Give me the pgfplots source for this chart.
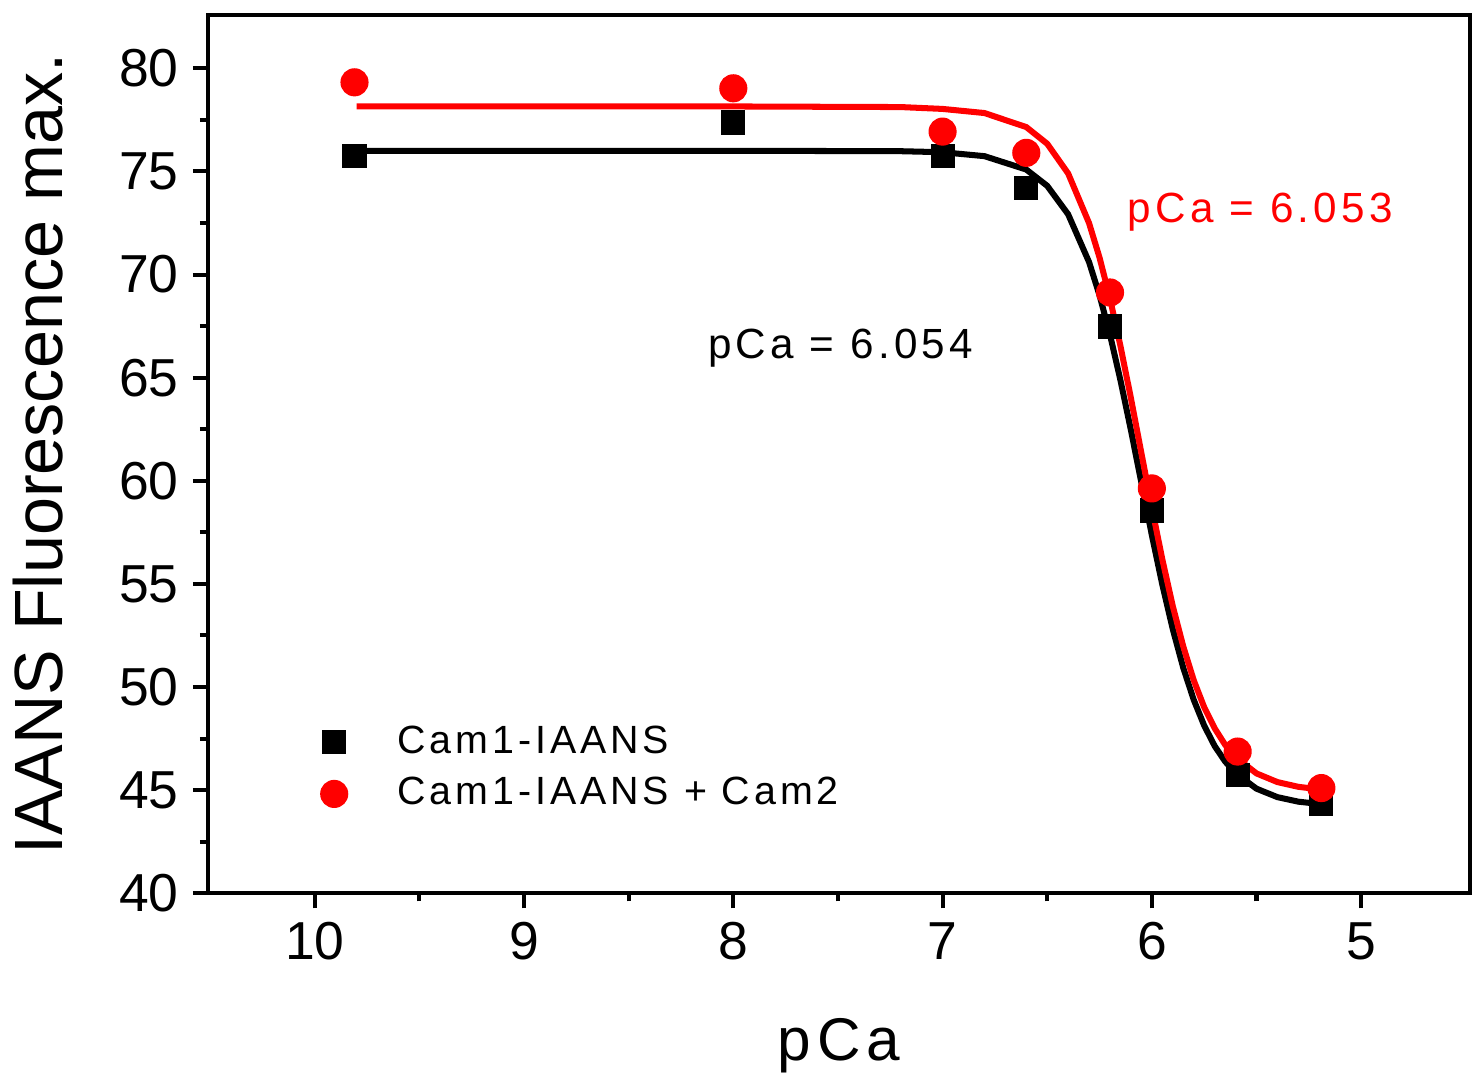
\documentclass[border=0pt]{standalone}
\usepackage{fontspec}
\setmainfont{Liberation Sans}
\newfontfamily\spaced[LetterSpace=10]{Liberation Sans}
\usepackage{pgfplots}
\pgfplotsset{compat=1.18}
\definecolor{myred}{RGB}{255,0,0}
\begin{document}
\begin{tikzpicture}
\begin{axis}[
  scale only axis, width=314pt, height=218.5pt,
  x dir=reverse, xmin=4.48, xmax=10.51, ymin=40, ymax=82.58,
  xtick={5,6,7,8,9,10}, minor x tick num=1,
  ytick={40,45,...,80}, minor y tick num=1,
  tick align=outside, xtick pos=bottom, ytick pos=left,
  major tick length=3.75pt, minor tick length=2pt,
  every tick/.style={black, line width=1pt},
  axis line style={line width=1pt},
  tick label style={font=\fontsize{13.3}{14}\selectfont},
  /pgf/number format/assume math mode=true,
  xlabel={pCa}, ylabel={IAANS Fluorescence max.},
  xlabel style={font=\spaced\fontsize{15}{17}\selectfont, yshift=-7.5pt},
  ylabel style={font=\fontsize{17}{19}\selectfont, yshift=7pt},
  legend style={at={(axis description cs:0.062,0.1425)}, anchor=west, draw=none, fill=none,
    font=\spaced\fontsize{9.8}{12}\selectfont, row sep=0.5pt},
  legend cell align=left,
]
\addplot[black, line width=1.5pt, forget plot] coordinates {
(9.8,76.0)(8.0,76.0)(7.2,75.98)(7.0,75.93)(6.8,75.74)(6.6,75.09)(6.5,74.30)(6.4,72.92)(6.3,70.60)
(6.25,68.99)(6.2,67.08)(6.15,64.87)(6.1,62.45)(6.05,59.90)(6.0,57.36)(5.95,54.96)(5.9,52.80)
(5.85,50.93)(5.8,49.38)(5.75,48.13)(5.7,47.14)(5.65,46.39)(5.6,45.82)(5.5,45.07)(5.4,44.66)
(5.3,44.44)(5.2,44.33)};
\addplot[myred, line width=1.5pt, forget plot] coordinates {
(9.8,78.15)(8.0,78.15)(7.2,78.12)(7.0,78.03)(6.8,77.83)(6.6,77.15)(6.5,76.34)(6.4,74.90)(6.3,72.49)
(6.25,70.82)(6.2,68.83)(6.15,66.53)(6.1,64.00)(6.05,61.34)(6.0,58.70)(5.95,56.19)(5.9,53.92)
(5.85,51.97)(5.8,50.33)(5.75,49.02)(5.7,48.00)(5.65,47.20)(5.6,46.60)(5.5,45.81)(5.4,45.39)
(5.3,45.16)(5.2,45.04)};
\addplot[only marks, mark=square*, mark size=2.8pt, black,
  legend image code/.code={\draw[mark repeat=2,mark phase=2] plot coordinates {(0cm,0cm)(0.3cm,0cm)(0.6cm,0cm)}; \path (0cm,0cm) (0.775cm,0cm);}] coordinates {
(9.81,75.76)(8.0,77.37)(7.0,75.76)(6.6,74.2)(6.2,67.48)(6.0,58.56)(5.59,45.75)(5.19,44.34)};
\addlegendentry{Cam1-IAANS}
\addplot[only marks, mark=*, mark size=3.3pt, myred, mark options={draw=myred, fill=myred},
  legend image code/.code={\draw[mark repeat=2,mark phase=2] plot coordinates {(0cm,0cm)(0.3cm,0cm)(0.6cm,0cm)}; \path (0cm,0cm) (0.775cm,0cm);}] coordinates {
(9.81,79.32)(8.0,79.03)(7.0,76.93)(6.6,75.9)(6.2,69.13)(6.0,59.63)(5.59,46.87)(5.19,45.1)};
\addlegendentry{Cam1-IAANS + Cam2}
\node[anchor=base west, inner sep=0pt, font=\spaced\fontsize{10.5}{12}\selectfont] at (axis cs:8.124,65.92) {pCa = 6.054};
\node[anchor=base west, inner sep=0pt, text=myred, font=\spaced\fontsize{10.5}{12}\selectfont] at (axis cs:6.118,72.5) {pCa = 6.053};
\end{axis}
\path (current axis.north west) ++(0,3.75pt);
\end{tikzpicture}
\end{document}
